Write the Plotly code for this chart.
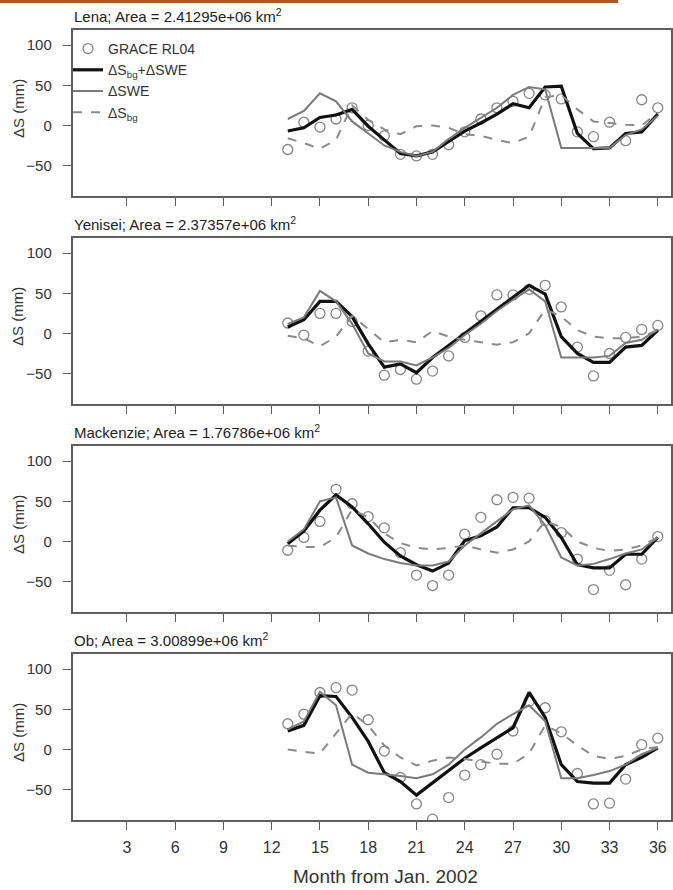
import plotly.graph_objects as go

W, H = 673, 890
months = list(range(13, 37))
basins = ["Lena", "Yenisei", "Mackenzie", "Ob"]
areas = ["2.41295e+06", "2.37357e+06", "1.76786e+06", "3.00899e+06"]
xtick_vals = list(range(3, 37, 3))
ytick_vals = [-50, 0, 50, 100]

# Lena
lena_grace = [-30, 4, -2, 8, 22, 0, -13, -36, -38, -36, -24, -8, 8, 22, 30, 40, 38, 33, -8, -14, 4, -19, 32, 22]
lena_total = [-7, -3, 10, 13, 20, -1, -18, -35, -38, -33, -20, -7, 3, 14, 27, 22, 48, 49, -10, -29, -28, -10, -8, 14]
lena_swe = [8, 18, 40, 30, 5, -10, -25, -33, -38, -33, -17, -3, 10, 22, 38, 48, 45, -28, -28, -28, -28, -12, -5, 12]
lena_sbg = [-16, -22, -29, -18, 25, 7, -5, -11, -1, 0, -3, -11, -13, -18, -22, -14, 35, 38, 20, 5, 3, 1, 0, 16]

# Yenisei
yen_grace = [13, -2, 25, 25, 15, -22, -52, -45, -57, -47, -28, -5, 22, 48, 48, 55, 60, 33, -17, -53, -25, -5, 5, 10]
yen_total = [8, 17, 40, 40, 21, -13, -42, -38, -49, -30, -15, 0, 15, 30, 45, 60, 49, -4, -25, -36, -36, -17, -15, 4]
yen_swe = [12, 20, 53, 40, 12, -25, -35, -35, -40, -30, -18, -2, 12, 28, 42, 55, 40, -30, -30, -30, -28, -12, -8, 5]
yen_sbg = [-3, -6, -16, -4, 22, 6, -11, -8, -11, 3, -4, -8, -11, -14, -11, 0, 30, 21, 4, -4, -6, -6, -4, 4]

# Mackenzie
mac_grace = [-11, 5, 25, 65, 47, 31, 17, -14, -42, -55, -42, 9, 30, 52, 55, 54, 26, 11, -22, -60, -36, -54, -22, 6]
mac_total = [-3, 13, 39, 58, 43, 22, -1, -18, -29, -37, -27, 1, 7, 18, 42, 42, 30, 5, -29, -33, -33, -16, -16, 5]
mac_swe = [0, 15, 50, 55, -5, -15, -22, -27, -30, -30, -25, -5, 10, 25, 40, 45, 20, -20, -30, -28, -22, -15, -10, 5]
mac_sbg = [-5, -7, -7, 5, 40, 30, 10, -2, -8, -10, -8, -5, -10, -14, -10, 0, 25, 18, 0, -8, -12, -10, -5, 5]

# Ob
ob_grace = [32, 44, 71, 77, 74, 37, -2, -35, -68, -87, -60, -32, -19, -6, 23, 60, 52, 22, -30, -68, -67, -37, 6, 14]
ob_total = [23, 30, 67, 66, 40, 10, -29, -40, -57, -42, -27, -11, 2, 15, 27, 71, 40, -19, -40, -42, -42, -19, -10, 2]
ob_swe = [25, 35, 72, 55, -19, -29, -31, -33, -36, -31, -19, 0, 15, 32, 44, 55, 35, -36, -36, -32, -27, -19, -6, 2]
ob_sbg = [0, -3, -5, 20, 45, 30, 5, -10, -20, -14, -10, -12, -15, -18, -18, -5, 30, 20, 5, -8, -12, -8, 0, 3]

grace = [lena_grace, yen_grace, mac_grace, ob_grace]
total = [lena_total, yen_total, mac_total, ob_total]
swe = [lena_swe, yen_swe, mac_swe, ob_swe]
sbg = [lena_sbg, yen_sbg, mac_sbg, ob_sbg]

FONT = "Liberation Sans, Arial, Helvetica, sans-serif"
AXCOL = "#5f5f5f"
TXT = "#333333"

# layout geometry (pixels)
left_px, right_px = 72.5, 671.0
tops = [30.0, 238.0, 446.0, 654.0]
ph = 166.0

fig = go.Figure()
layout = dict(
    width=W, height=H,
    margin=dict(l=0, r=0, t=0, b=0),
    paper_bgcolor="white", plot_bgcolor="white",
    font=dict(family=FONT, size=15, color=TXT),
    showlegend=True,
    legend=dict(x=68 / W, y=1 - 33 / H, xanchor="left", yanchor="top",
                bgcolor="rgba(0,0,0,0)", font=dict(size=14, color=TXT),
                tracegroupgap=0, itemwidth=30),
    annotations=[], shapes=[],
)

for i in range(4):
    n = "" if i == 0 else str(i + 1)
    xa, ya = "x" + n, "y" + n
    top, bot = tops[i], tops[i] + ph
    layout["xaxis" + n] = dict(
        domain=[left_px / W, right_px / W], range=[-0.38, 36.82], anchor=ya,
        tickvals=xtick_vals, ticktext=[str(v) for v in xtick_vals],
        showticklabels=(i == 3), ticks="outside", ticklen=8, tickwidth=1.2, tickcolor=AXCOL,
        showline=True, linecolor=AXCOL, linewidth=1.5, mirror=True, showgrid=False, zeroline=False,
        tickfont=dict(size=16, color=TXT), automargin=False, ticklabelstandoff=4,
    )
    layout["yaxis" + n] = dict(
        domain=[1 - bot / H, 1 - top / H], range=[-88, 119], anchor=xa,
        tickvals=ytick_vals, ticks="outside", ticklen=8, tickwidth=1.2, tickcolor=AXCOL,
        showline=True, linecolor=AXCOL, linewidth=1.5, mirror=True, showgrid=False, zeroline=False,
        tickfont=dict(size=15, color=TXT), automargin=False, ticklabelstandoff=8,
    )
    # panel title
    layout["annotations"].append(dict(
        xref="paper", yref="paper", x=(left_px - 1) / W, y=1 - (top - 3) / H,
        xanchor="left", yanchor="bottom", showarrow=False,
        text=f"{basins[i]}; Area = {areas[i]} km<sup>2</sup>",
        font=dict(size=15, color="#222222"),
    ))
    # y-axis title
    layout["annotations"].append(dict(
        xref="paper", yref="paper", x=18 / W, y=1 - (top + ph / 2 - 4) / H,
        xanchor="center", yanchor="middle", showarrow=False, textangle=-90,
        text="ΔS (mm)", font=dict(size=15, color=TXT),
    ))
    sl = (i == 0)
    fig.add_trace(go.Scatter(x=months, y=grace[i], mode="markers", xaxis=xa, yaxis=ya,
                             name="GRACE RL04", showlegend=sl,
                             marker=dict(symbol="circle-open", size=10, color="#858585", line=dict(width=1.3))))
    fig.add_trace(go.Scatter(x=months, y=total[i], mode="lines", xaxis=xa, yaxis=ya,
                             name="ΔS<sub>bg</sub>+ΔSWE", showlegend=sl,
                             line=dict(color="#111111", width=3.2)))
    fig.add_trace(go.Scatter(x=months, y=swe[i], mode="lines", xaxis=xa, yaxis=ya,
                             name="ΔSWE", showlegend=sl,
                             line=dict(color="#7a7a7a", width=2)))
    fig.add_trace(go.Scatter(x=months, y=sbg[i], mode="lines", xaxis=xa, yaxis=ya,
                             name="ΔS<sub>bg</sub>", showlegend=sl,
                             line=dict(color="#8a8a8a", width=2, dash="dash")))

# x-axis title of bottom panel
layout["annotations"].append(dict(
    xref="paper", yref="paper", x=385 / W, y=1 - 876 / H,
    xanchor="center", yanchor="middle", showarrow=False,
    text="Month from Jan. 2002", font=dict(size=19, color=TXT),
))

layout["shapes"].append(dict(type="line", xref="paper", yref="paper",
                             x0=0, x1=618 / W, y0=1 - 1.5 / H, y1=1 - 1.5 / H,
                             line=dict(color="#b5561f", width=3)))
fig.update_layout(**layout)
fig.write_html("out.html", config={"displayModeBar": False},
               post_script="document.body.style.margin='0';document.body.style.overflow='hidden';")
